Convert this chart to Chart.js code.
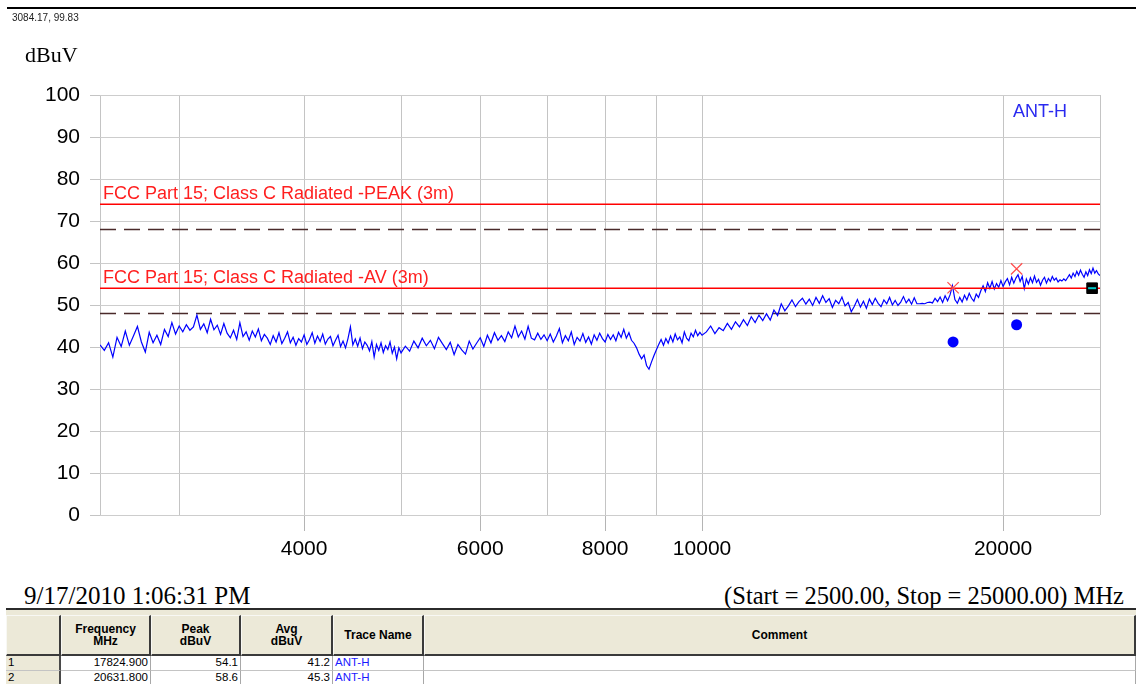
<!DOCTYPE html>
<html>
<head>
<meta charset="utf-8">
<script src="https://cdn.jsdelivr.net/npm/chart.js@4.4.1/dist/chart.umd.min.js"></script>
<style>
html,body{margin:0;padding:0;background:#fff;}
body{width:1136px;height:684px;position:relative;overflow:hidden;font-family:"Liberation Sans",Arial,sans-serif;}
.abs{position:absolute;white-space:nowrap;}
#c{position:absolute;left:0;top:0;}
.hc{position:absolute;box-sizing:border-box;background:#ece9d8;border-top:1px solid #f8f8f4;border-left:1px solid #f8f8f4;border-right:2px solid #3a3a3a;border-bottom:2px solid #3a3a3a;display:flex;align-items:center;justify-content:center;text-align:center;font:bold 12px/12px "Liberation Sans",Arial,sans-serif;color:#000;}
.dc{position:absolute;box-sizing:border-box;background:#fff;border-right:1px solid #a8a8a8;border-bottom:1px solid #c4c4c4;font:11.5px/13px "Liberation Sans",Arial,sans-serif;color:#000;overflow:hidden;}
.rh{background:#ece9d8;border-right:2px solid #4a4a4a;}
</style>
</head>
<body>
<canvas id="c" width="1136" height="580" style="width:1136px;height:580px"></canvas>
<div class="abs" style="left:7px;top:7px;width:1129px;height:2px;background:#000"></div>
<div class="abs" style="left:12px;top:13px;font:10px/10px 'Liberation Sans',Arial,sans-serif;color:#222">3084.17, 99.83</div>
<div class="abs" style="left:25px;top:44px;font:22px/22px 'Liberation Serif','Times New Roman',serif;color:#000">dBuV</div>
<div class="abs" style="left:24px;top:583px;font:25px/25px 'Liberation Serif','Times New Roman',serif;color:#000">9/17/2010 1:06:31 PM</div>
<div class="abs" style="right:12px;top:583px;font:24.5px/25px 'Liberation Serif','Times New Roman',serif;color:#000">(Start = 2500.00, Stop = 25000.00) MHz</div>
<div class="abs" style="left:6px;top:608px;width:1130px;height:2px;background:#2b2b2b"></div>
<div class="abs" style="left:6px;top:610px;width:1130px;height:46px;background:#ece9d8"></div>
<div id="tbl"></div>
<script>
// ---- data ----
const sweepFreqsMHz = [
2500,2525,2550,2575,2600,2625,2650,2675,2700,2725,2750,2775,2800,2825,2850,2875,2900,2925,2950,2975,
3000,3025,3050,3075,3100,3125,3150,3175,3200,3225,3250,3275,3300,3325,3350,3375,3400,3425,3450,3475,
3500,3525,3550,3575,3600,3625,3650,3675,3700,3725,3750,3775,3800,3825,3850,3875,3900,3925,3950,3975,
4000,4025,4050,4075,4100,4125,4150,4175,4200,4225,4250,4275,4300,4325,4350,4375,4400,4425,4450,4475,
4500,4525,4550,4575,4600,4625,4650,4675,4700,4725,4750,4775,4800,4825,4850,4875,4900,4925,4950,4975,
5000,
5050,5100,5150,5200,5250,5300,5350,5400,5450,5500,5550,5600,5650,5700,5750,5800,5850,5900,5950,6000,
6050,6100,6150,6200,6250,6300,6350,6400,6450,6500,6550,6600,6650,6700,6750,6800,6850,6900,6950,7000,
7050,7100,7150,7200,7250,7300,7350,7400,7450,7500,7550,7600,7650,7700,7750,7800,7850,7900,7950,8000,
8050,8100,8150,8200,8250,8300,8350,8400,8450,8500,8550,8600,8650,8700,8750,8800,8850,8900,8950,9000,
9050,9100,9150,9200,9250,9300,9350,9400,9450,9500,9550,9600,9650,9700,9750,9800,9850,9900,9950,10000,
10100,10200,10300,10400,10500,10600,10700,10800,10900,11000,
11100,11200,11300,11400,11500,11600,11700,11800,11900,12000,
12100,12200,12300,12400,12500,12600,12700,12800,12900,13000,
13100,13200,13300,13400,13500,13600,13700,13800,13900,14000,
14100,14200,14300,14400,14500,14600,14700,14800,14900,15000,
15100,15200,15300,15400,15500,15600,15700,15800,15900,16000,
16100,16200,16300,16400,16500,16600,16700,16800,16900,17000,
17100,17200,17300,17400,17500,17600,17700,17800,17900,18000,
18100,18200,18300,18400,18500,18600,18700,18800,18900,19000,
19100,19200,19300,19400,19500,19600,19700,19800,19900,20000,
20100,20200,20300,20400,20500,20600,20700,20800,20900,21000,
21100,21200,21300,21400,21500,21600,21700,21800,21900,22000,
22100,22200,22300,22400,22500,22600,22700,22800,22900,23000,
23100,23200,23300,23400,23500,23600,23700,23800,23900,24000,
24100,24200,24300,24400,24500,24600,24700,24800,24900,25000
];
const sweepLevelsDbuv = [
40.5,39.2,41.0,37.6,42.3,40.1,43.8,40.4,42.6,44.9,41.2,38.8,43.5,41.0,42.8,40.6,44.2,42.5,45.8,43.1,
45.0,43.6,45.3,44.0,44.8,47.6,44.2,45.5,43.4,46.6,44.1,45.2,43.0,45.6,43.3,42.2,44.0,41.8,45.8,42.5,
43.6,41.6,43.8,42.4,44.3,41.5,43.0,42.1,40.6,42.7,41.2,43.4,40.8,42.1,43.6,41.0,42.3,40.4,42.0,41.2,
42.9,40.6,41.8,43.4,40.9,42.6,41.3,43.1,40.7,41.9,42.5,40.3,41.6,42.8,40.1,41.4,39.8,42.0,44.8,40.5,
41.9,40.2,42.1,39.6,41.2,40.4,39.1,41.3,37.6,40.6,39.2,41.0,38.7,40.3,39.4,41.2,38.5,40.0,37.2,39.8,
38.6,
40.2,39.0,41.4,39.8,42.1,40.3,41.6,39.6,42.3,40.8,39.4,41.1,38.2,40.6,39.3,38.3,41.4,39.5,40.9,42.2,
40.1,42.8,41.0,43.4,41.6,42.7,41.3,43.6,42.2,45.0,42.4,43.8,41.9,44.9,42.1,41.7,43.3,41.8,42.9,41.5,
43.1,41.2,42.6,44.4,41.0,42.7,41.5,43.6,40.6,42.3,41.4,43.2,41.1,42.4,40.7,42.9,41.6,43.3,42.0,41.2,
43.0,41.8,42.9,41.5,43.5,42.3,44.2,42.1,43.4,41.6,40.9,39.8,38.3,37.2,38.1,35.6,34.7,36.4,37.9,39.3,
40.6,41.8,40.4,42.0,40.9,42.6,41.2,43.1,41.7,42.4,41.0,43.6,42.1,41.5,43.3,42.4,44.0,42.7,43.5,42.8,
43.6,45.0,43.2,44.6,43.9,45.6,44.2,46.0,44.8,46.5,
45.1,47.2,45.8,47.6,46.3,47.9,46.4,48.8,47.5,50.3,
48.6,49.8,51.2,49.6,50.8,51.6,50.2,51.4,49.9,51.8,
50.4,52.2,50.6,51.5,49.4,51.1,50.3,51.9,49.8,50.6,
48.4,49.7,51.3,49.5,50.9,49.2,51.4,50.1,51.6,50.4,
49.6,51.2,50.3,51.8,50.0,51.1,49.9,50.7,52.0,50.5,
51.4,50.2,51.7,50.3,50.3,50.4,50.3,50.6,50.7,50.5,
51.6,50.8,51.9,50.6,52.2,51.0,52.4,54.6,51.3,50.4,
51.8,50.7,52.3,51.2,52.8,51.6,50.9,52.6,51.8,53.4,
54.6,53.2,55.3,54.0,55.6,53.8,55.1,54.2,55.8,54.4,
55.5,56.3,54.8,56.6,55.2,56.4,57.2,55.6,56.8,53.9,
56.2,55.0,56.5,55.3,56.9,55.4,56.1,54.7,55.9,56.6,
55.2,56.3,55.6,56.8,55.9,56.4,55.5,56.0,55.7,56.2,
55.8,56.5,57.2,56.4,57.6,56.8,58.0,57.1,58.3,57.3,
56.6,57.9,57.0,58.4,57.5,58.8,57.6,58.2,57.4,57.0
];
const freqRangeMHz = [2500, 25000];
const limitPeakDbuv = 74;
const limitAvgDbuv = 54;
const marginPeakDbuv = 68;
const marginAvgDbuv = 48;
const limitLabels = ['FCC Part 15; Class C Radiated -PEAK (3m)', 'FCC Part 15; Class C Radiated -AV (3m)'];
const traceName = 'ANT-H';
const markerFreqsMHz = [17824.9, 20631.8];
const markerPeakDbuv = [54.1, 58.6];
const markerAvgDbuv = [41.2, 45.3];
const markerTraceNames = ['ANT-H', 'ANT-H'];
const endMarker = [24550, 54];
const xTickValues = [2500, 3000, 4000, 5000, 6000, 7000, 8000, 9000, 10000, 20000, 25000];
const xTickLabels = ['', '', '4000', '', '6000', '', '8000', '', '10000', '20000', ''];
const yTickValues = [0, 10, 20, 30, 40, 50, 60, 70, 80, 90, 100];
const tableHeads = [[''], ['Frequency', 'MHz'], ['Peak', 'dBuV'], ['Avg', 'dBuV'], ['Trace Name'], ['Comment']];

// ---- chart ----
const tracePts = sweepFreqsMHz.map((f, i) => ({x: f, y: sweepLevelsDbuv[i]}));
const hLine = v => [{x: freqRangeMHz[0], y: v}, {x: freqRangeMHz[1], y: v}];

const labelPlugin = {
  id: 'plotLabels',
  afterDatasetsDraw(chart) {
    const {ctx, chartArea, scales: {y}} = chart;
    ctx.save();
    ctx.textBaseline = 'alphabetic';
    ctx.textAlign = 'left';
    ctx.font = '18px "Liberation Sans", Arial, sans-serif';
    ctx.fillStyle = '#ff1f1f';
    ctx.fillText(limitLabels[0], chartArea.left + 3, y.getPixelForValue(limitPeakDbuv) - 5);
    ctx.fillText(limitLabels[1], chartArea.left + 3, y.getPixelForValue(limitAvgDbuv) - 5);
    ctx.fillStyle = '#2a2af0';
    ctx.fillText(traceName, chartArea.right - 87, chartArea.top + 22);
    ctx.restore();
  }
};

new Chart(document.getElementById('c'), {
  type: 'line',
  data: {
    datasets: [
      {label: 'Peak', data: markerFreqsMHz.map((f, i) => ({x: f, y: markerPeakDbuv[i]})), showLine: false,
       pointStyle: 'crossRot', pointRadius: 8, pointBorderColor: '#ff4d4d', pointBorderWidth: 1.2, pointBackgroundColor: 'rgba(0,0,0,0)', order: 0},
      {label: 'Avg', data: markerFreqsMHz.map((f, i) => ({x: f, y: markerAvgDbuv[i]})), showLine: false,
       pointStyle: 'circle', pointRadius: 5.5, pointBorderColor: '#0000ff', pointBorderWidth: 0, pointBackgroundColor: '#0000ff', order: 0},
      {label: 'End', data: [{x: endMarker[0], y: endMarker[1]}], showLine: false,
       pointStyle: 'line', pointRadius: 4, pointBorderColor: '#00c8c8', pointBorderWidth: 2, order: -1},
      {label: 'EndBox', data: [{x: endMarker[0], y: endMarker[1]}], showLine: false,
       pointStyle: 'rect', pointRadius: 7.5, pointBorderColor: '#000', pointBorderWidth: 1, pointBackgroundColor: '#000', order: 0},
      {label: 'Limit PK', data: hLine(limitPeakDbuv), borderColor: '#ff0000', borderWidth: 1.5, pointRadius: 0, order: 1},
      {label: 'Limit AV', data: hLine(limitAvgDbuv), borderColor: '#ff0000', borderWidth: 1.5, pointRadius: 0, order: 1},
      {label: traceName, data: tracePts, borderColor: '#0000ff', borderWidth: 1.2, pointRadius: 0, order: 2},
      {label: 'Margin PK', data: hLine(marginPeakDbuv), borderColor: '#4a2a2a', borderWidth: 1.5, borderDash: [16, 8], pointRadius: 0, order: 3},
      {label: 'Margin AV', data: hLine(marginAvgDbuv), borderColor: '#4a2a2a', borderWidth: 1.5, borderDash: [16, 8], pointRadius: 0, order: 3}
    ]
  },
  options: {
    responsive: false,
    animation: false,
    devicePixelRatio: 1,
    layout: {padding: {top: 95, right: 36, left: 0, bottom: 0}},
    plugins: {legend: {display: false}, tooltip: {enabled: false}, title: {display: false}},
    elements: {line: {tension: 0}},
    scales: {
      x: {
        type: 'logarithmic', min: freqRangeMHz[0], max: freqRangeMHz[1],
        afterBuildTicks: s => { s.ticks = xTickValues.map(v => ({value: v})); },
        afterFit: s => { s.height = 65; },
        ticks: {autoSkip: false, maxRotation: 0, minRotation: 0, padding: 6, color: '#000',
                font: {family: '"Liberation Sans", Arial, sans-serif', size: 21},
                callback: (v, i) => xTickLabels[i]},
        grid: {color: '#c4c4c4', lineWidth: 1, tickLength: 16,
               tickColor: ctx => xTickLabels[ctx.index] ? '#b4b4b4' : 'rgba(0,0,0,0)'},
        border: {display: false}
      },
      y: {
        min: 0, max: 100,
        afterBuildTicks: s => { s.ticks = yTickValues.map(v => ({value: v})); },
        afterFit: s => { s.width = 100; },
        ticks: {padding: 10, color: '#000', font: {family: '"Liberation Sans", Arial, sans-serif', size: 21}},
        grid: {color: '#cdcdcd', lineWidth: 1, tickLength: 10, tickColor: '#c4c4c4'},
        border: {display: false}
      }
    }
  },
  plugins: [labelPlugin]
});

// ---- marker table ----
const colEdges = [6, 61, 151, 241, 333, 424, 1136];
const tbl = document.getElementById('tbl');
function cell(cls, left, top, w, h, html, style) {
  const d = document.createElement('div');
  d.className = cls;
  d.style.left = left + 'px'; d.style.top = top + 'px';
  d.style.width = w + 'px'; d.style.height = h + 'px';
  d.innerHTML = html;
  if (style) d.style.cssText += style;
  tbl.appendChild(d);
}
tableHeads.forEach((lines, i) => {
  cell('hc', colEdges[i], 615, colEdges[i + 1] - colEdges[i], 41, lines.join('<br>'));
});
markerFreqsMHz.forEach((f, r) => {
  const top = 656 + r * 14.5;
  const vals = [String(r + 1), f.toFixed(3), markerPeakDbuv[r].toFixed(1), markerAvgDbuv[r].toFixed(1), markerTraceNames[r], ''];
  vals.forEach((v, i) => {
    const w = colEdges[i + 1] - colEdges[i];
    let st = '';
    if (i === 0) st = 'text-align:left;padding-left:2px;';
    else if (i <= 3) st = 'text-align:right;padding-right:2px;';
    else if (i === 4) st = 'text-align:left;padding-left:2px;color:#1a1aff;';
    cell('dc' + (i === 0 ? ' rh' : ''), colEdges[i], top, w, 14.5, v, st);
  });
});
</script>
</body>
</html>
